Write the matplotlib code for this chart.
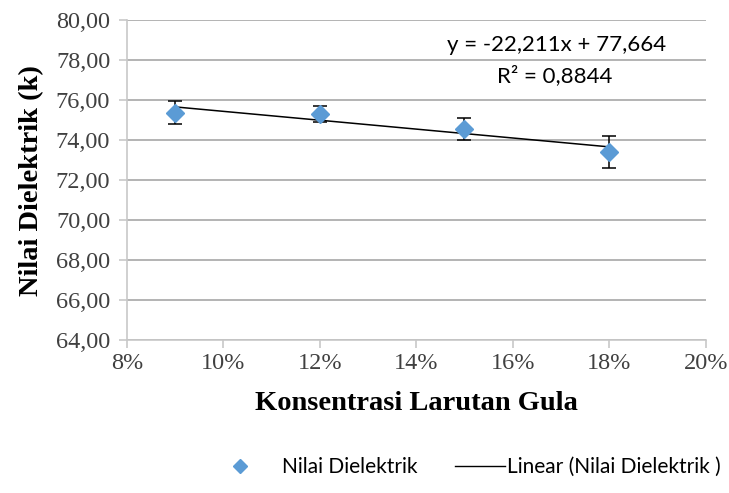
import matplotlib
matplotlib.use("Agg")
import matplotlib.pyplot as plt
from matplotlib.ticker import PercentFormatter, FuncFormatter, MultipleLocator
from matplotlib.lines import Line2D

# data
konsentrasi = [0.09, 0.12, 0.15, 0.18]
dielektrik = [75.38, 75.33, 74.55, 73.42]
error = [0.56, 0.40, 0.54, 0.80]
slope, intercept = -22.211, 77.664
eq_text = "y = -22,211x + 77,664"
r2_text = "R² = 0,8844"

serif = "Liberation Serif"
sans = "Lato"
blue = "#5B9BD5"
grid_c = "#B3B3B3"

fig = plt.figure(figsize=(7.29, 4.93), dpi=100)
ax = fig.add_axes([0.174, 0.310, 0.794, 0.649])

ax.errorbar(konsentrasi, dielektrik, yerr=error, fmt="D", color=blue, ms=9,
            ecolor="black", elinewidth=1.1, capsize=5, capthick=1.1, zorder=3)

xt = [konsentrasi[0], konsentrasi[-1]]
ax.plot(xt, [slope * x + intercept for x in xt], color="black", lw=1.1, zorder=2)

ax.set_xlim(0.08, 0.20)
ax.set_ylim(64, 80)
ax.xaxis.set_major_locator(MultipleLocator(0.02))
ax.yaxis.set_major_locator(MultipleLocator(2))
ax.xaxis.set_major_formatter(PercentFormatter(xmax=1, decimals=0))
ax.yaxis.set_major_formatter(FuncFormatter(lambda v, p: f"{v:.2f}".replace(".", ",")))

ax.grid(True, axis="y", color=grid_c, lw=1.4)
ax.set_axisbelow(True)
for s in ["top", "right"]:
    ax.spines[s].set_visible(False)
for s in ["left", "bottom"]:
    ax.spines[s].set_color("#C8C8C8")
    ax.spines[s].set_linewidth(1.2)
ax.tick_params(axis="both", colors="#C8C8C8", length=6, width=1.2, labelcolor="#404040")
ax.tick_params(axis="y", pad=6)
for lab in ax.get_xticklabels() + ax.get_yticklabels():
    lab.set_fontfamily(serif)
    lab.set_fontsize(17.5)

ax.set_xlabel("Konsentrasi Larutan Gula", fontfamily=serif, fontweight="bold",
              fontsize=20.5, labelpad=12)
ax.set_ylabel("Nilai Dielektrik (k)", fontfamily=serif, fontweight="bold",
              fontsize=20.5, labelpad=8)

ax.text(0.743, 0.922, eq_text, transform=ax.transAxes, ha="center", va="center",
        fontfamily=sans, fontsize=16)
ax.text(0.739, 0.828, r2_text, transform=ax.transAxes, ha="center", va="center",
        fontfamily=sans, fontsize=16)

# legend in two parts so the spacing matches
leg1 = fig.legend([Line2D([], [], marker="D", color=blue, ls="none", ms=7)],
                  ["Nilai Dielektrik"], loc="center left",
                  bbox_to_anchor=(230 / 729, 0.0527), frameon=False,
                  prop={"family": sans, "size": 15}, handlelength=1.0,
                  handletextpad=1.5, borderpad=0, borderaxespad=0)
fig.legend([Line2D([], [], color="black", lw=1.0)],
           ["Linear (Nilai Dielektrik )"], loc="center left",
           bbox_to_anchor=(455 / 729, 0.0527), frameon=False,
           prop={"family": sans, "size": 15}, handlelength=2.4,
           handletextpad=0.1, borderpad=0, borderaxespad=0)

fig.savefig("out.png", dpi=100)
